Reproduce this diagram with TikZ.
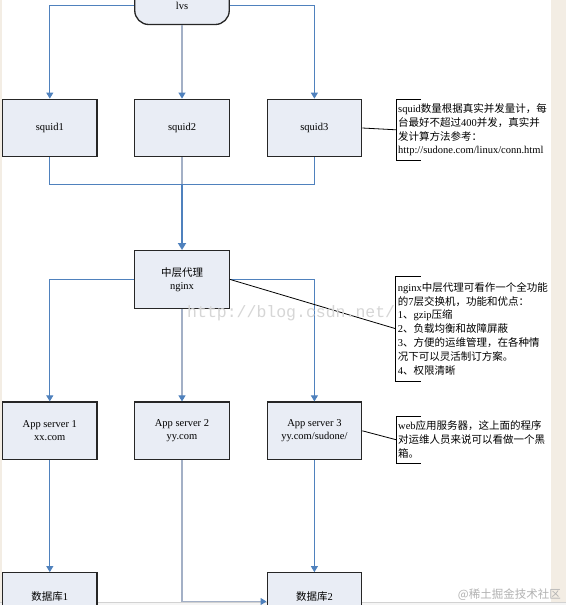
\documentclass[tikz,border=0pt]{standalone}
\usepackage{fontspec}
\setmainfont{Liberation Serif}
\newfontfamily\zh{Noto Sans CJK SC}
\newfontfamily\wmfont{Liberation Mono}
\usetikzlibrary{arrows.meta}

\definecolor{flowblue}{HTML}{4F81BD}
\definecolor{flowgray}{HTML}{A3B0C6}
\definecolor{boxfill}{HTML}{E9EDF5}
\definecolor{pagebeige}{HTML}{F3EDE4}

\begin{document}
\begin{tikzpicture}[
  x=1pt, y=-1pt,
  font=\fontsize{10.5}{13}\selectfont,
  >={Triangle[length=6pt,width=7pt]},
  srvbox/.style={rectangle, draw=black!85, line width=1.3pt, fill=boxfill, minimum width=94.5pt, minimum height=57.5pt, inner sep=0pt, align=center},
  lvsbox/.style={srvbox, rounded corners=14pt, minimum height=38pt},
  dbbox/.style={srvbox, text height=7.5pt, text depth=10pt},
  flowline/.style={->, draw=flowblue, line width=0.9pt},
  flowdim/.style={-{Triangle[length=6pt,width=7pt,color=flowblue]}, draw=flowgray, line width=1.1pt},
  joinline/.style={draw=flowblue, line width=0.9pt},
  mainfeed/.style={-{Triangle[length=7pt,width=8pt]}, draw=flowblue, line width=1.8pt},
  notebox/.style={anchor=west, align=left, inner sep=2pt, font=\fontsize{10.5}{13.8}\selectfont},
  noteline/.style={draw=black, line width=0.8pt}
]
  \useasboundingbox (0,0) rectangle (566,605);
  \fill[white] (0,0) rectangle (566,605);
  \clip (0,0) rectangle (566,605);
  \fill[pagebeige] (551,0) rectangle (566,605);
  \fill[pagebeige] (0,0) rectangle (1.5,605);
  \fill[gray!8] (0,602.5) rectangle (566,605);
  \draw[gray!35, line width=0.8pt] (0,602.5) -- (566,602.5);

  % front: lvs and squid layer
  \node[lvsbox] (lvs) at (182,5.5) {lvs};
  \node[srvbox] (sq1) at (49.8,128) {squid1};
  \node[srvbox] (sq2) at (182,128) {squid2};
  \node[srvbox] (sq3) at (314.4,128) {squid3};
  \coordinate (sqjoin) at (182,184.3);

  % middle proxy
  \node[srvbox] (nginx) at (182,279.4) {{\zh 中层代理}\\nginx};

  % app servers and databases
  \node[srvbox] (app1) at (49.8,430.8) {App server 1\\xx.com};
  \node[srvbox] (app2) at (182,430.8) {App server 2\\yy.com};
  \node[srvbox] (app3) at (314.4,430.8) {App server 3\\yy.com/sudone/};
  \node[dbbox] (db1) at (49.8,601.5) {{\zh 数据库}1};
  \node[dbbox] (db2) at (314.4,601.5) {{\zh 数据库}2};

  % notes
  \node[notebox, minimum height=61pt] (note1) at (396,129.8)
    {squid{\zh 数量根据真实并发量计，每}\\
     {\zh 台最好不超过}400{\zh 并发，真实并}\\
     {\zh 发计算方法参考：}\\
     http://sudone.com/linux/conn.html};
  \node[notebox, minimum height=104pt] (note2) at (395.7,328.7)
    {nginx{\zh 中层代理可看作一个全功能}\\
     {\zh 的}7{\zh 层交换机，功能和优点：}\\
     1{\zh 、}gzip{\zh 压缩}\\
     2{\zh 、负载均衡和故障屏蔽}\\
     3{\zh 、方便的运维管理，在各种情}\\
     {\zh 况下可以灵活制订方案。}\\
     4{\zh 、权限清晰}};
  \node[notebox, minimum height=46pt] (note3) at (396,439.7)
    {web{\zh 应用服务器，这上面的程序}\\
     {\zh 对运维人员来说可以看做一个黑}\\
     {\zh 箱。}};
  \foreach \nt in {note1,note2,note3}
    \draw[noteline] ([xshift=25pt]\nt.north west) -- (\nt.north west) -- (\nt.south west) -- ([xshift=25pt]\nt.south west);

  % connectors
  \draw[flowline] (lvs.west) -| (sq1.north);
  \draw[flowline] (lvs.east) -| (sq3.north);
  \draw[flowdim] (lvs.south) -- (sq2.north);
  \draw[joinline] (sq1.south) |- (sqjoin) -| (sq3.south);
  \draw[flowgray, line width=1.1pt] (sq2.south) -- (sqjoin);
  \draw[mainfeed] (sqjoin) -- (nginx.north);
  \draw[flowline] (nginx.west) -| (app1.north);
  \draw[flowline] (nginx.east) -| (app3.north);
  \draw[flowdim] (nginx.south) -- (app2.north);
  \draw[flowline] (app1.south) -- (db1.north);
  \draw[flowline] (app3.south) -- (db2.north);
  \draw[flowdim] (app2.south) |- (db2.west);
  \draw[noteline] (sq3.east) -- (note1.west);
  \draw[noteline] (nginx.east) -- (note2.west);
  \draw[noteline] (app3.east) -- (note3.west);

  % watermarks
  \node[anchor=west, inner sep=0pt, text=black!16, font=\wmfont\fontsize{16.5}{16.5}\selectfont] (csdnmark) at (187,313) {http://blog.csdn.net/};
  \node[anchor=east, inner sep=0pt, text=black!30, font=\zh\fontsize{11.5}{12}\selectfont] (jjmark) at (561,595) {@稀土掘金技术社区};
\end{tikzpicture}
\end{document}
